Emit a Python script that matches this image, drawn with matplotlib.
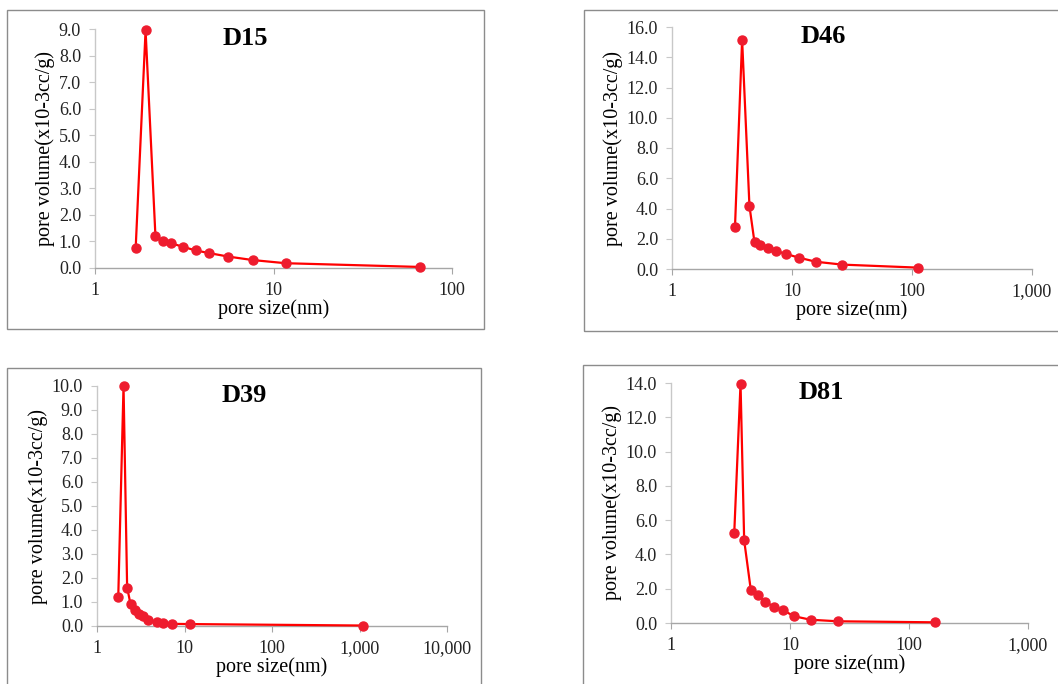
import matplotlib

matplotlib.use("Agg")
import matplotlib.pyplot as plt
from matplotlib.patches import Rectangle
from matplotlib.ticker import FixedLocator, FuncFormatter, NullLocator

# pore size (nm) and pore volume (x10-3 cc/g)
d15_size = [1.69, 1.92, 2.18, 2.39, 2.65, 3.10, 3.67, 4.37, 5.58, 7.63, 11.7, 65.9]
d15_vol = [0.75, 8.95, 1.22, 1.00, 0.94, 0.80, 0.66, 0.56, 0.43, 0.30, 0.18, 0.04]

d46_size = [3.35, 3.84, 4.42, 4.87, 5.39, 6.25, 7.39, 8.97, 11.4, 15.8, 26.2, 113.0]
d46_vol = [2.80, 15.15, 4.16, 1.76, 1.56, 1.39, 1.19, 0.99, 0.75, 0.48, 0.29, 0.09]

d39_size = [1.75, 2.01, 2.21, 2.42, 2.69, 3.04, 3.38, 3.86, 4.80, 5.73, 7.13, 11.7, 1085.0]
d39_vol = [1.22, 10.0, 1.60, 0.90, 0.68, 0.50, 0.40, 0.27, 0.16, 0.12, 0.09, 0.08, 0.02]

d81_size = [3.40, 3.84, 4.12, 4.68, 5.36, 6.21, 7.34, 8.74, 10.9, 14.9, 25.2, 164.0]
d81_vol = [5.25, 13.97, 4.82, 1.95, 1.61, 1.25, 0.93, 0.74, 0.39, 0.19, 0.10, 0.04]

W, H = 1058, 684
SERIF = ["Liberation Serif", "DejaVu Serif"]

# name, x, y, xmax, ymax, ystep, axes box (px: left, top, right, bottom), frame box (px)
panels = [
    ("D15", d15_size, d15_vol, 100, 9, 1, (95, 29, 452, 268), (7, 10, 484, 329)),
    ("D46", d46_size, d46_vol, 1000, 16, 2, (672, 27, 1032, 269), (584, 10, 1062, 331)),
    ("D39", d39_size, d39_vol, 10000, 10, 1, (97, 386, 447, 626), (7, 368, 481, 692)),
    ("D81", d81_size, d81_vol, 1000, 14, 2, (671, 383, 1028, 623), (583, 365, 1062, 692)),
]

fig = plt.figure(figsize=(W / 100, H / 100), dpi=100)
fig.patch.set_facecolor("white")


def px_rect(l, t, r, b):
    return [l / W, 1 - b / H, (r - l) / W, (b - t) / H]


for name, xs, ys, xmax, ymax, ystep, box, frame in panels:
    # thin grey frame round each chart, like the pasted Excel charts
    fl, ft, fr, fb = frame
    fig.patches.append(
        Rectangle((fl / W, 1 - fb / H), (fr - fl) / W, (fb - ft) / H,
                  transform=fig.transFigure, fill=False, edgecolor="#8c8c8c",
                  linewidth=1.0, zorder=0)
    )

    ax = fig.add_axes(px_rect(*box))
    ax.set_facecolor("none")
    ax.plot(xs, ys, color="#ff0000", linewidth=1.6, marker="o", markersize=6.5,
            markerfacecolor="#ee1c2e", markeredgecolor="#ee1c2e", clip_on=False, zorder=3)
    ax.set_xscale("log")
    ax.set_xlim(1, xmax)
    ax.set_ylim(0, ymax)

    decades = []
    v = 1
    while v <= xmax:
        decades.append(v)
        v *= 10
    ax.xaxis.set_major_locator(FixedLocator(decades))
    ax.xaxis.set_minor_locator(NullLocator())
    ax.xaxis.set_major_formatter(FuncFormatter(lambda val, pos: f"{int(round(val)):,}"))
    ax.set_yticks([i * ystep for i in range(int(ymax / ystep) + 1)])
    ax.yaxis.set_major_formatter(FuncFormatter(lambda val, pos: f"{val:.1f}"))

    for side in ("top", "right"):
        ax.spines[side].set_visible(False)
    ax.spines["left"].set_color("#c8c8c8")
    ax.spines["bottom"].set_color("#a6a6a6")
    ax.spines["left"].set_linewidth(1.0)
    ax.spines["bottom"].set_linewidth(1.0)
    ax.tick_params(axis="x", length=4, width=0.8, color="#a6a6a6", pad=6)
    ax.tick_params(axis="y", length=4, width=0.8, color="#c8c8c8", pad=6)
    for lab in ax.get_xticklabels() + ax.get_yticklabels():
        lab.set_fontfamily(SERIF)
        lab.set_fontsize(13)
        lab.set_color("#222222")

    ax.set_xlabel("pore size(nm)", fontfamily=SERIF, fontsize=14.5, labelpad=0)
    ax.set_ylabel("pore volume(x10-3cc/g)", fontfamily=SERIF, fontsize=14.5, labelpad=3)
    ax.text(0.42, 0.96, name, transform=ax.transAxes, ha="center", va="center",
            fontfamily=SERIF, fontsize=19, fontweight="bold")

fig.savefig("out.png", dpi=100, facecolor="white")
